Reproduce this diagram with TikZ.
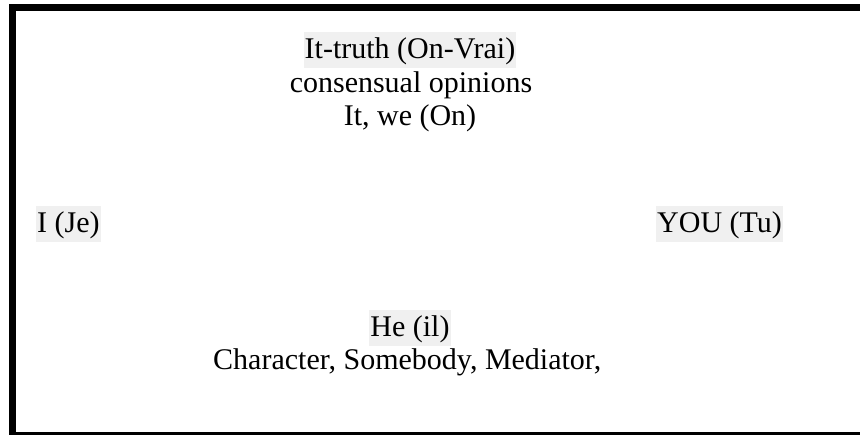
\documentclass[tikz,border=0pt]{standalone}
\usepackage{fontspec}
\setmainfont{Liberation Serif}
\definecolor{markgray}{HTML}{F0F0F0}
\tikzset{
    word/.style={font=\fontsize{30}{34}\selectfont, inner sep=0pt},
    markedword/.style={word, fill=markgray, inner xsep=1pt, text height=27pt, text depth=9pt}
}
\begin{document}
\begin{tikzpicture}[x=1pt,y=-1pt]
    \useasboundingbox (0,0) rectangle (860,435);
    \clip (0,0) rectangle (860,435);
    \draw[line width=7pt] (12.5,7.5) rectangle (880,435.5);
    \node[markedword, anchor=base] (ontruth) at (410,59) {It-truth (On-Vrai)};
    \node[word, anchor=base] (opinions) at (411,92.5) {consensual opinions};
    \node[word, anchor=base] (on) at (410,126) {It, we (On)};
    \node[markedword, anchor=base west] (je) at (36,233) {I (Je)};
    \node[markedword, anchor=base west] (tu) at (656,233) {YOU (Tu)};
    \node[markedword, anchor=base] (il) at (410,337) {He (il)};
    \node[word, anchor=base west] (mediator) at (213,370) {Character, Somebody, Mediator,};
\end{tikzpicture}
\end{document}
